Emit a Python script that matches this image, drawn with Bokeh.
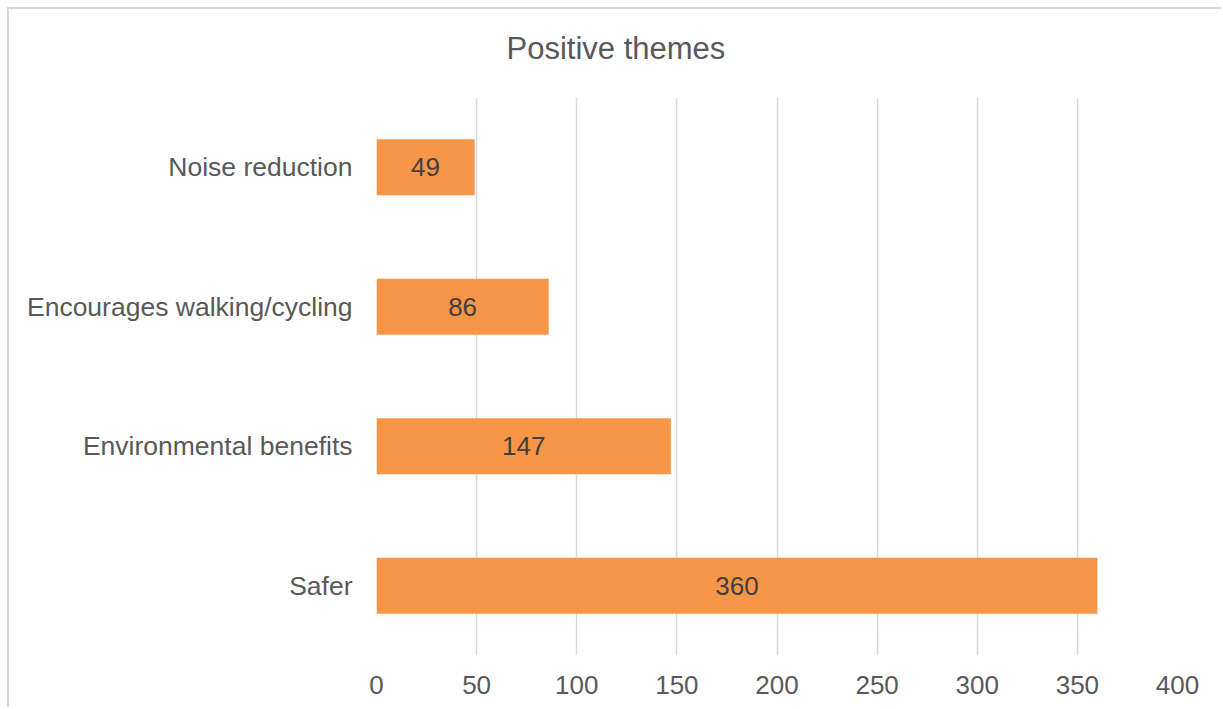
from bokeh.plotting import figure
from bokeh.models import ColumnDataSource, FactorRange, Range1d, FixedTicker, Title
from bokeh.core.properties import value
from bokeh.embed import file_html
from bokeh.resources import INLINE

title_text = "Positive themes"
categories = ["Safer", "Environmental benefits", "Encourages walking/cycling", "Noise reduction"]
counts = [360, 147, 86, 49]
x_ticks = [0, 50, 100, 150, 200, 250, 300, 350, 400]

FONT = "Liberation Sans"

src = ColumnDataSource(dict(
    cat=categories,
    val=counts,
    mid=[v / 2 for v in counts],
    lab=[str(v) for v in counts],
))

p = figure(
    width=1214, height=700,
    y_range=FactorRange(*categories, range_padding=0),
    x_range=Range1d(0, 400),
    output_backend="svg", toolbar_location=None,
    min_border_left=367, min_border_right=46,
    min_border_top=88, min_border_bottom=54,
    title=title_text,
)
p.styles = {"border-top": "2px solid #d9d9d9", "border-left": "2px solid #d9d9d9",
            "margin-left": "7px", "margin-top": "7px"}
p.outline_line_color = None
p.background_fill_color = "white"
p.border_fill_color = "white"

# invisible spacer between the frame and the title
spacer = Title(text=" ", text_font_size="1px", standoff=29, text_color="white")
p.add_layout(spacer, "above")

p.title.text_font = FONT
p.title.text_font_size = "31px"
p.title.text_font_style = "normal"
p.title.text_color = "#595959"
p.title.align = "left"
p.title.offset = 130
p.title.standoff = 0

p.hbar(y="cat", right="val", left=0, height=0.4, source=src,
       fill_color="#F79646", line_color=None)

p.text(x="mid", y="cat", text="lab", source=src,
       text_align="center", text_baseline="middle",
       text_font=value(FONT), text_font_size="26px", text_color="#404040")

p.xaxis.ticker = FixedTicker(ticks=x_ticks)
p.xaxis.axis_line_color = None
p.xaxis.major_tick_line_color = None
p.xaxis.minor_tick_line_color = None
p.xaxis.major_tick_out = 0
p.xaxis.major_tick_in = 0
p.xaxis.major_label_standoff = 20
p.xaxis.major_label_text_font = FONT
p.xaxis.major_label_text_font_size = "26px"
p.xaxis.major_label_text_color = "#595959"

p.yaxis.axis_line_color = None
p.yaxis.major_tick_line_color = None
p.yaxis.major_tick_out = 0
p.yaxis.major_tick_in = 0
p.yaxis.major_label_standoff = 24
p.yaxis.major_label_text_font = FONT
p.yaxis.major_label_text_font_size = "26.5px"
p.yaxis.major_label_text_color = "#595959"

p.ygrid.grid_line_color = None
p.xgrid.grid_line_color = "#d9d9d9"
p.xgrid.grid_line_width = 1.5

open("out.html", "w").write(file_html(p, INLINE))
